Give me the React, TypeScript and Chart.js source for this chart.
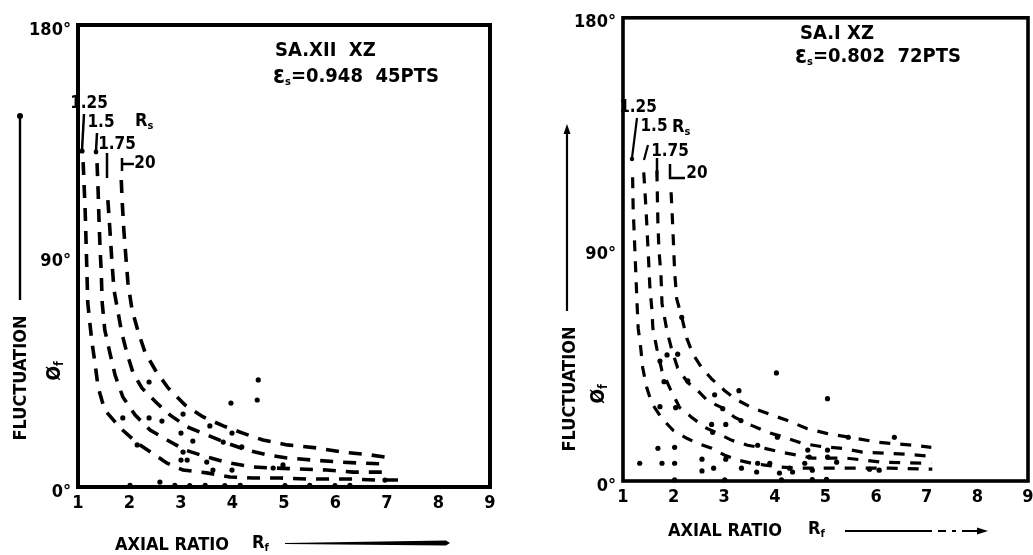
import React, { useEffect, useRef } from "react";
import { Chart, registerables } from "chart.js";

Chart.register(...registerables);

const FAM = "'DejaVu Sans Condensed','Liberation Sans Narrow','DejaVu Sans',sans-serif";

// ---------- shared axis data ----------
const xTickValues = [1, 2, 3, 4, 5, 6, 7, 8, 9];
const yTickValues = [0, 90, 180];
const yTickLabels = ["0°", "90°", "180°"];
const curveLabels = ["1.25", "1.5", "1.75", "2.0"];

// ---------- left panel: SA.XII XZ (Rf, phi) ----------
const leftRs125: number[][] = [[1.10,126.6],[1.14,107.1],[1.16,93.1],[1.19,71.7],[1.23,63.9],[1.27,56.5],[1.33,48.3],[1.39,38.9],[1.52,30.0],[1.82,23.0],[2.15,17.1],[2.44,13.2],[2.73,9.3],[3.04,6.6],[3.50,5.5],[3.95,3.9],[4.40,3.5],[4.92,3.5],[5.45,3.1],[5.89,3.1],[6.34,3.1],[6.81,2.7],[7.25,2.7]];
const leftRs15: number[][] = [[1.37,126.2],[1.39,115.7],[1.41,102.8],[1.43,92.3],[1.45,84.5],[1.47,71.7],[1.52,61.2],[1.62,52.2],[1.72,43.6],[1.87,35.1],[2.11,28.0],[2.40,22.2],[2.73,18.3],[3.08,14.4],[3.50,11.7],[3.95,9.3],[4.40,7.8],[4.79,7.4],[5.31,7.0],[5.83,6.6],[6.34,5.8],[7.02,5.8]];
const leftRs175: number[][] = [[1.58,111.8],[1.62,100.1],[1.66,87.3],[1.70,76.7],[1.78,67.8],[1.85,60.0],[1.95,52.2],[2.07,44.4],[2.24,38.6],[2.53,32.7],[2.79,28.0],[3.12,23.4],[3.50,20.3],[3.89,17.1],[4.28,14.4],[4.67,12.5],[5.06,11.3],[5.56,10.5],[6.09,9.7],[6.53,9.3],[6.96,9.0]];
const leftRs20: number[][] = [[1.84,119.6],[1.86,110.6],[1.89,100.1],[1.93,89.6],[1.97,79.5],[2.05,69.0],[2.17,60.4],[2.30,52.6],[2.50,45.6],[2.75,38.6],[3.08,31.9],[3.43,27.3],[3.82,23.8],[4.20,21.0],[4.59,18.3],[5.06,16.4],[5.64,15.2],[6.15,13.6],[6.67,12.5],[6.96,11.7]];
const leftPoints: number[][] = [[2.38,40.9],[4.50,41.7],[3.97,32.7],[4.48,33.9],[1.87,26.9],[2.38,26.9],[2.63,25.7],[3.04,28.4],[3.00,21.0],[3.23,17.9],[2.15,16.4],[3.04,13.6],[3.12,10.5],[3.00,10.5],[3.50,9.7],[3.99,21.0],[3.56,23.8],[3.99,6.6],[3.62,6.6],[4.79,7.4],[4.98,8.6],[4.18,15.6],[3.82,17.5],[2.59,1.9],[6.96,2.7],[2.01,0.6],[2.88,0.6],[3.17,0.5],[3.47,0.6],[3.85,0.5],[4.15,0.6],[5.02,0.5],[5.50,0.6],[5.99,0.5],[6.28,0.6]];
const leftTitle = "SA.XII  XZ";
const leftStrain = "=0.948  45PTS";

// ---------- right panel: SA.I XZ ----------
const rightRs125: number[][] = [[1.19,118.0],[1.20,106.4],[1.22,96.8],[1.24,87.1],[1.26,77.5],[1.28,67.9],[1.30,59.4],[1.35,51.7],[1.39,43.9],[1.47,36.2],[1.57,30.1],[1.77,24.3],[1.99,19.7],[2.26,16.6],[2.48,14.6],[2.75,12.7],[3.01,10.0],[3.27,8.1],[3.54,6.9],[3.80,6.2],[4.13,5.4],[4.45,5.0],[5.28,5.0],[6.26,5.0],[7.11,4.6]];
const rightRs15: number[][] = [[1.41,119.9],[1.45,107.2],[1.47,99.8],[1.49,91.8],[1.51,84.0],[1.53,75.6],[1.57,66.7],[1.59,59.4],[1.67,51.3],[1.77,42.8],[1.93,35.9],[2.12,28.5],[2.36,24.7],[2.62,20.8],[2.87,18.5],[3.15,15.8],[3.46,13.9],[3.80,12.7],[4.13,11.2],[4.45,10.0],[4.74,8.9],[5.41,8.9],[6.12,7.3],[7.09,6.9]];
const rightRs175: number[][] = [[1.67,120.7],[1.68,109.5],[1.69,99.8],[1.71,89.8],[1.75,80.2],[1.77,69.0],[1.87,58.2],[1.97,50.5],[2.08,43.9],[2.28,38.2],[2.48,35.1],[2.67,31.2],[2.95,28.5],[3.21,24.7],[3.54,21.6],[3.86,18.9],[4.19,17.0],[4.55,14.6],[4.88,13.5],[5.33,12.7],[5.73,11.2],[6.20,10.8],[6.60,10.4],[7.09,9.6]];
const rightRs20: number[][] = [[1.95,112.2],[1.97,104.5],[2.00,91.0],[2.02,81.3],[2.06,70.9],[2.18,62.1],[2.26,55.5],[2.38,49.3],[2.56,43.9],[2.75,39.7],[3.01,35.1],[3.21,32.0],[3.54,28.5],[3.86,26.2],[4.25,23.5],[4.63,20.4],[5.02,18.5],[5.47,17.0],[6.06,15.0],[6.71,13.9],[7.09,13.1]];
const rightPoints: number[][] = [[2.16,63.6],[1.87,49.0],[2.08,49.3],[1.73,46.6],[1.81,38.6],[2.28,38.9],[4.03,42.0],[5.04,32.0],[3.29,35.1],[2.81,33.5],[2.97,28.1],[1.73,28.9],[2.04,28.5],[2.75,22.0],[3.03,22.0],[3.33,23.5],[2.77,18.9],[3.66,13.9],[4.05,17.0],[1.69,12.7],[2.02,13.1],[1.33,6.9],[1.77,6.9],[2.02,6.9],[2.56,8.5],[2.56,3.9],[2.79,5.0],[3.03,8.5],[3.34,5.0],[3.64,3.5],[3.66,6.9],[3.90,6.9],[4.09,3.1],[4.29,5.0],[4.59,6.9],[4.65,12.0],[5.45,17.0],[6.36,17.0],[4.68,9.3],[5.04,9.3],[5.04,12.0],[5.22,7.3],[5.87,4.6],[4.35,3.5],[4.74,4.2],[6.06,4.2],[2.02,0.4],[3.01,0.4],[4.13,0.4],[5.02,0.6],[4.74,0.5]];
const rightTitle = "SA.I XZ";
const rightStrain = "=0.802  72PTS";

type Seg = { t: string; size: number; dy?: number };

function seq(ctx: CanvasRenderingContext2D, x: number, y: number, segs: Seg[]) {
  let cx = x;
  ctx.textAlign = "left";
  ctx.textBaseline = "middle";
  for (const s of segs) {
    ctx.font = `bold ${s.size}px ${FAM}`;
    ctx.fillText(s.t, cx, y + (s.dy || 0));
    cx += ctx.measureText(s.t).width;
  }
}

function txt(ctx: CanvasRenderingContext2D, t: string, x: number, y: number, size: number, align: CanvasTextAlign = "center") {
  ctx.font = `bold ${size}px ${FAM}`;
  ctx.textAlign = align;
  ctx.textBaseline = "middle";
  ctx.fillText(t, x, y);
}

function line(ctx: CanvasRenderingContext2D, pts: number[][], w: number) {
  ctx.lineWidth = w;
  ctx.setLineDash([]);
  ctx.beginPath();
  pts.forEach(([x, y], i) => (i ? ctx.lineTo(x, y) : ctx.moveTo(x, y)));
  ctx.stroke();
}

function dot(ctx: CanvasRenderingContext2D, x: number, y: number, r: number) {
  ctx.beginPath();
  ctx.arc(x, y, r, 0, Math.PI * 2);
  ctx.fill();
}

function tri(ctx: CanvasRenderingContext2D, pts: number[][]) {
  ctx.beginPath();
  pts.forEach(([x, y], i) => (i ? ctx.lineTo(x, y) : ctx.moveTo(x, y)));
  ctx.closePath();
  ctx.fill();
}

function rotText(ctx: CanvasRenderingContext2D, cx: number, cy: number, segs: Seg[]) {
  ctx.save();
  ctx.translate(cx, cy);
  ctx.rotate(-Math.PI / 2);
  let total = 0;
  for (const s of segs) {
    ctx.font = `bold ${s.size}px ${FAM}`;
    total += ctx.measureText(s.t).width;
  }
  seq(ctx, -total / 2, 0, segs);
  ctx.restore();
}

type Panel = {
  curves: number[][][];
  points: number[][];
  offsetX: number;
  canvasW: number;
  padding: { left: number; right: number; top: number; bottom: number };
  yAxisW: number;
  xAxisH: number;
  lineW: number;
  dash: number[];
  frameW: number;
  dotR: number;
  deco: (ctx: CanvasRenderingContext2D) => void;
};

const leftPanel: Panel = {
  curves: [leftRs125, leftRs15, leftRs175, leftRs20],
  points: leftPoints,
  offsetX: 0,
  canvasW: 516,
  padding: { left: 0, right: 26, top: 25, bottom: 28 },
  yAxisW: 78,
  xAxisH: 40,
  lineW: 3.6,
  dash: [13, 10],
  frameW: 4,
  dotR: 2.6,
  deco: (ctx) => {
    txt(ctx, leftTitle, 275, 51, 20, "left");
    seq(ctx, 273, 77, [
      { t: "ε", size: 24 },
      { t: "s", size: 11, dy: 5 },
      { t: leftStrain, size: 20 },
    ]);
    txt(ctx, curveLabels[0], 89, 104, 17);
    txt(ctx, curveLabels[1], 101, 123, 17);
    seq(ctx, 135, 121, [{ t: "R", size: 18 }, { t: "s", size: 11, dy: 5 }]);
    txt(ctx, curveLabels[2], 117, 145, 17);
    txt(ctx, curveLabels[3].replace(".", ""), 145, 164, 17);
    line(ctx, [[84, 114], [82, 150]], 2.5);
    dot(ctx, 82, 151, 2.6);
    line(ctx, [[97, 133], [96, 151]], 2.5);
    dot(ctx, 96, 152, 2.4);
    line(ctx, [[107, 153], [107, 178]], 2.5);
    line(ctx, [[122, 158], [122, 171]], 2.5);
    line(ctx, [[122, 164], [134, 164]], 2.5);
    rotText(ctx, 21, 378, [{ t: "FLUCTUATION", size: 18 }]);
    line(ctx, [[20, 300], [20, 118]], 2.4);
    dot(ctx, 20, 116, 3);
    rotText(ctx, 55, 371, [{ t: "Ø", size: 19 }, { t: "f", size: 12, dy: 5 }]);
    seq(ctx, 115, 545, [{ t: "AXIAL RATIO", size: 18 }]);
    seq(ctx, 252, 543, [{ t: "R", size: 18 }, { t: "f", size: 11, dy: 5 }]);
    tri(ctx, [[285, 543], [446, 540.5], [450, 543], [446, 545.5], [285, 544]]);
  },
};

const rightPanel: Panel = {
  curves: [rightRs125, rightRs15, rightRs175, rightRs20],
  points: rightPoints,
  offsetX: 516,
  canvasW: 530,
  padding: { left: 0, right: 18, top: 14, bottom: 34 },
  yAxisW: 107,
  xAxisH: 40,
  lineW: 3.2,
  dash: [11, 10],
  frameW: 3.6,
  dotR: 2.6,
  deco: (ctx) => {
    ctx.save();
    ctx.translate(-516, 0);
    txt(ctx, rightTitle, 800, 34, 20, "left");
    seq(ctx, 795, 57, [
      { t: "ε", size: 24 },
      { t: "s", size: 11, dy: 5 },
      { t: rightStrain, size: 20 },
    ]);
    txt(ctx, curveLabels[0], 638, 108, 17);
    txt(ctx, curveLabels[1], 654, 127, 17);
    seq(ctx, 672, 127, [{ t: "R", size: 18 }, { t: "s", size: 11, dy: 5 }]);
    txt(ctx, curveLabels[2], 670, 152, 17);
    txt(ctx, curveLabels[3].replace(".", ""), 697, 174, 17);
    line(ctx, [[637, 118], [632, 158]], 2.2);
    dot(ctx, 632, 159, 2.2);
    line(ctx, [[648, 145], [644, 160]], 2.2);
    line(ctx, [[657, 158], [657, 177]], 2.5);
    line(ctx, [[670, 164], [670, 178], [685, 178]], 2.5);
    rotText(ctx, 570, 389, [{ t: "FLUCTUATION", size: 18 }]);
    line(ctx, [[567, 311], [567, 132]], 2.2);
    tri(ctx, [[567, 124], [563.5, 134], [570.5, 134]]);
    rotText(ctx, 599, 394, [{ t: "Ø", size: 19 }, { t: "f", size: 12, dy: 5 }]);
    seq(ctx, 668, 531, [{ t: "AXIAL RATIO", size: 18 }]);
    seq(ctx, 808, 529, [{ t: "R", size: 18 }, { t: "f", size: 11, dy: 5 }]);
    line(ctx, [[845, 531], [932, 531]], 2.2);
    line(ctx, [[938, 531], [946, 531]], 2);
    line(ctx, [[952, 531], [956, 531]], 2);
    line(ctx, [[962, 531], [978, 531]], 2);
    tri(ctx, [[988, 531], [977, 527.5], [977, 534.5]]);
    ctx.restore();
  },
};

function buildConfig(p: Panel): any {
  const framePlugin = {
    id: "frame",
    afterDraw(chart: any) {
      const ctx: CanvasRenderingContext2D = chart.ctx;
      const a = chart.chartArea;
      ctx.save();
      ctx.setLineDash([]);
      ctx.strokeStyle = "#000";
      ctx.fillStyle = "#000";
      ctx.lineWidth = p.frameW;
      ctx.lineCap = "square";
      ctx.strokeRect(a.left, a.top, a.right - a.left, a.bottom - a.top);
      ctx.lineCap = "butt";
      p.deco(ctx);
      ctx.restore();
    },
  };
  const tickFont = { family: FAM, size: 18, weight: "bold" as const };
  return {
    type: "scatter",
    data: {
      datasets: [
        ...p.curves.map((c) => ({
          data: c.map(([x, y]) => ({ x, y })),
          showLine: true,
          borderColor: "#000",
          borderWidth: p.lineW,
          borderDash: p.dash,
          borderCapStyle: "butt",
          pointRadius: 0,
          tension: 0,
          fill: false,
        })),
        {
          data: p.points.map(([x, y]) => ({ x, y })),
          showLine: false,
          pointRadius: p.dotR,
          pointBackgroundColor: "#000",
          pointBorderWidth: 0,
          clip: false,
        },
      ],
    },
    options: {
      animation: false,
      responsive: false,
      maintainAspectRatio: false,
      devicePixelRatio: 1,
      layout: { padding: p.padding },
      plugins: { legend: { display: false }, tooltip: { enabled: false } },
      scales: {
        x: {
          type: "linear",
          min: 1,
          max: 9,
          afterBuildTicks: (s: any) => {
            s.ticks = xTickValues.map((v) => ({ value: v }));
          },
          afterFit: (s: any) => {
            s.height = p.xAxisH;
          },
          grid: { display: false, drawTicks: false },
          border: { display: false },
          ticks: { font: tickFont, color: "#000", padding: 6, maxRotation: 0, autoSkip: false, callback: (v: any) => String(v) },
        },
        y: {
          type: "linear",
          min: 0,
          max: 180,
          afterBuildTicks: (s: any) => {
            s.ticks = yTickValues.map((v) => ({ value: v }));
          },
          afterFit: (s: any) => {
            s.width = p.yAxisW;
          },
          grid: { display: false, drawTicks: false },
          border: { display: false },
          ticks: {
            font: tickFont,
            color: "#000",
            padding: 7,
            labelOffset: 5,
            autoSkip: false,
            callback: (v: any) => yTickLabels[yTickValues.indexOf(Number(v))] ?? "",
          },
        },
      },
    },
    plugins: [framePlugin],
  };
}

function PanelChart({ p }: { p: Panel }) {
  const ref = useRef<HTMLCanvasElement | null>(null);
  useEffect(() => {
    if (!ref.current) return;
    const chart = new Chart(ref.current, buildConfig(p));
    return () => chart.destroy();
  }, [p]);
  return (
    <canvas
      ref={ref}
      width={p.canvasW}
      height={555}
      style={{ position: "absolute", left: p.offsetX, top: 0, width: p.canvasW, height: 555 }}
    />
  );
}

export default function App() {
  return (
    <div style={{ position: "fixed", left: 0, top: 0, width: 1033, height: 555, overflow: "hidden", background: "#fff" }}>
      <PanelChart p={leftPanel} />
      <PanelChart p={rightPanel} />
    </div>
  );
}
